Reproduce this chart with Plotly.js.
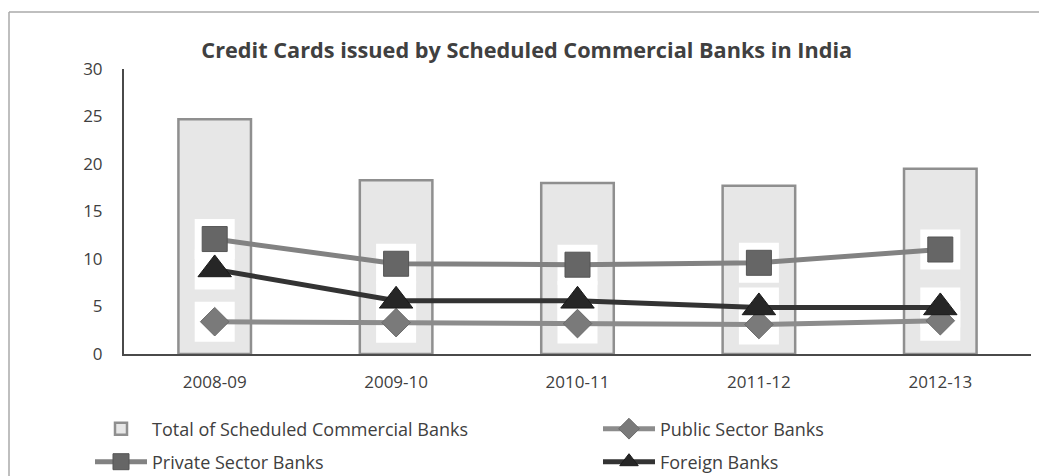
<!DOCTYPE html>
<html>
<head>
<meta charset="utf-8">
<script src="https://cdn.plot.ly/plotly-3.0.1.min.js"></script>
<style>html,body{margin:0;padding:0;background:#fff;}#chart{width:1039px;height:476px;}</style>
</head>
<body>
<div id="chart"></div>
<script>
const years = ["2008-09", "2009-10", "2010-11", "2011-12", "2012-13"];
const totalBanks = [24.7, 18.3, 18.0, 17.7, 19.5];
const publicBanks = [3.4, 3.3, 3.2, 3.1, 3.5];
const privateBanks = [12.1, 9.5, 9.4, 9.6, 11.0];
const foreignBanks = [8.9, 5.6, 5.6, 4.9, 4.9];
const yTicks = [0, 5, 10, 15, 20, 25, 30];

const FONT = "Open Sans, sans-serif";
const traces = [];

traces.push({
  type: "bar", x: years, y: totalBanks, name: "Total of Scheduled Commercial Banks",
  width: 0.4,
  marker: {color: "#e7e7e7", line: {color: "#8f8f8f", width: 2.5}},
  legend: "legend", hoverinfo: "x+y"
});

// white backing boxes behind markers
[publicBanks, privateBanks, foreignBanks].forEach(function(vals){
  traces.push({
    type: "scatter", mode: "markers", x: years, y: vals, showlegend: false, hoverinfo: "skip",
    marker: {symbol: "square", size: 40, color: "#ffffff", line: {width: 0}}
  });
});

traces.push({
  type: "scatter", mode: "lines+markers", x: years, y: publicBanks, name: "Public Sector Banks",
  line: {color: "#8c8c8c", width: 5},
  marker: {symbol: "diamond", size: 22, color: "#7a7a7a", line: {color: "#6a6a6a", width: 1}},
  legend: "legend3"
});
traces.push({
  type: "scatter", mode: "lines+markers", x: years, y: privateBanks, name: "Private Sector Banks",
  line: {color: "#828282", width: 5},
  marker: {symbol: "square", size: 25, color: "#666666", line: {color: "#555555", width: 1}},
  legend: "legend2"
});
traces.push({
  type: "scatter", mode: "lines+markers", x: years, y: foreignBanks, name: "Foreign Banks",
  line: {color: "#333333", width: 5},
  marker: {symbol: "triangle-up", size: 29, color: "#262626", line: {color: "#1a1a1a", width: 1}},
  legend: "legend4"
});

const W = 907, H = 285, L = 124, B = 354;
function px(x){ return (x - L) / W; }
function py(y){ return (B - y) / H; }

function leg(xp, yp){
  return {orientation: "h", x: px(xp), xanchor: "left", y: py(yp), yanchor: "middle",
          itemwidth: 52, font: {family: FONT, size: 18, color: "#404040"},
          bgcolor: "rgba(0,0,0,0)"};
}

const layout = {
  width: 1039, height: 476,
  margin: {l: 124, r: 8, t: 69, b: 122, autoexpand: false},
  paper_bgcolor: "#ffffff", plot_bgcolor: "#ffffff",
  font: {family: FONT, size: 17, color: "#404040"},
  title: {text: "<b>Credit Cards issued by Scheduled Commercial Banks in India</b>",
          font: {family: FONT, size: 21.7, color: "#404040"},
          x: 0.507, xanchor: "center", y: 1 - 50/476, yanchor: "middle"},
  xaxis: {type: "category", range: [-0.5, 4.5], showgrid: false, zeroline: false,
          showline: true, linecolor: "#4a4a4a", linewidth: 2, ticks: "", ticklabelstandoff: 12,
          tickfont: {family: FONT, size: 17, color: "#404040"}, fixedrange: true},
  yaxis: {range: [0, 30], tickvals: yTicks, ticktext: yTicks.map(String), showgrid: false, zeroline: false,
          showline: true, linecolor: "#4a4a4a", linewidth: 2, ticks: "", ticklabelstandoff: 16,
          tickfont: {family: FONT, size: 17, color: "#404040"}, fixedrange: true},
  bargap: 0.6,
  legend: leg(90, 429),
  legend3: leg(598, 429),
  legend2: leg(90, 462),
  legend4: leg(598, 462),
  shapes: [
    {type: "line", xref: "paper", yref: "paper", x0: px(9), x1: px(1039), y0: py(12), y1: py(12),
     line: {color: "#aaaaaa", width: 1.5}},
    {type: "line", xref: "paper", yref: "paper", x0: px(9), x1: px(9), y0: py(12), y1: py(476),
     line: {color: "#aaaaaa", width: 1.5}}
  ],
  showlegend: true
};

Plotly.newPlot("chart", traces, layout, {displayModeBar: false, staticPlot: true});
</script>
</body>
</html>
